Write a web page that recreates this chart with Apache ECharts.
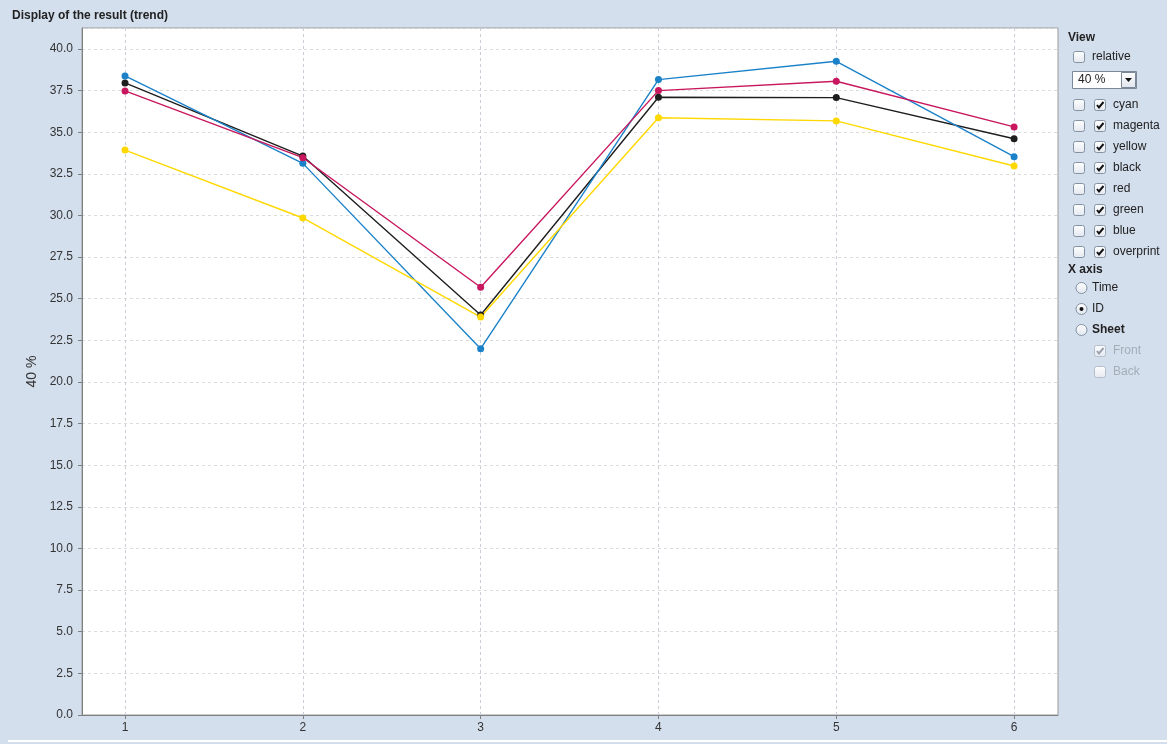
<!DOCTYPE html>
<html>
<head>
<meta charset="utf-8">
<script src="https://cdn.jsdelivr.net/npm/echarts@6/dist/echarts.min.js"></script>
<style>
html,body{margin:0;padding:0;background:#d4dfee;}
#chart{width:1167px;height:744px;}
</style>
</head>
<body>
<div id="chart"></div>
<script>
// ---- data ----
const categories = [1, 2, 3, 4, 5, 6];
const cyan    = [38.38, 33.13, 22.00, 38.16, 39.26, 33.53];
const magenta = [37.48, 33.47, 25.69, 37.50, 38.06, 35.32];
const yellow  = [33.93, 29.85, 23.90, 35.87, 35.68, 32.97];
const black   = [37.96, 33.57, 24.02, 37.10, 37.08, 34.61];
const seriesNames = ['black', 'cyan', 'magenta', 'yellow'];
const panelItems = ['cyan', 'magenta', 'yellow', 'black', 'red', 'green', 'blue', 'overprint'];
const title = 'Display of the result (trend)';
const yName = '40 %';

const colors = {cyan: '#1b82c9', magenta: '#c8175e', yellow: '#ffd800', black: '#1e1e1e'};
const values = {cyan, magenta, yellow, black};

const FONT = '"Liberation Sans", Arial, sans-serif';

function checkbox(x, y, checked, disabled) {
  const children = [{
    type: 'rect',
    shape: {x: 0, y: 0, width: 11, height: 11, r: 2},
    style: {
      fill: new echarts.graphic.LinearGradient(0, 0, 0, 1, [
        {offset: 0, color: '#ffffff'}, {offset: 1, color: '#e3e8ef'}]),
      stroke: disabled ? '#b5bfcb' : '#8392a3', lineWidth: 1
    }
  }];
  if (checked) {
    children.push({
      type: 'polyline',
      shape: {points: [[2.5, 5.5], [4.5, 8], [9, 2.5]]},
      style: {stroke: disabled ? '#9aa3ad' : '#111', lineWidth: 2, fill: null}
    });
  }
  return {type: 'group', x: x + 0.5, y: y + 0.5, children};
}
function radio(cx, cy, selected) {
  const children = [{
    type: 'circle', shape: {cx: 0, cy: 0, r: 5.5},
    style: {
      fill: new echarts.graphic.LinearGradient(0, 0, 0, 1, [
        {offset: 0, color: '#ffffff'}, {offset: 1, color: '#e0e6ee'}]),
      stroke: '#8392a3', lineWidth: 1
    }
  }];
  if (selected) children.push({type: 'circle', shape: {cx: 0, cy: 0, r: 2}, style: {fill: '#111'}});
  return {type: 'group', x: cx, y: cy, children};
}
function label(x, y, text, opts) {
  opts = opts || {};
  return {
    type: 'text', x, y,
    style: {
      text, fill: opts.color || '#222', font: (opts.bold ? 'bold ' : '') + (opts.size || 12) + 'px ' + FONT,
      textVerticalAlign: 'middle', textAlign: 'left'
    }
  };
}

const graphics = [];
graphics.push(label(12, 16, title, {bold: true, size: 12}));
// panel
graphics.push(label(1068, 38, 'View', {bold: true}));
graphics.push(checkbox(1073, 51, false));
graphics.push(label(1092, 56.5, 'relative'));
// dropdown
graphics.push({type: 'rect', shape: {x: 1072.5, y: 71.5, width: 64, height: 17},
  style: {fill: '#ffffff', stroke: '#7a8899', lineWidth: 1}});
graphics.push(label(1078, 80, '40 %'));
graphics.push({type: 'rect', shape: {x: 1121.5, y: 72.5, width: 14, height: 15},
  style: {fill: new echarts.graphic.LinearGradient(0, 0, 0, 1, [
    {offset: 0, color: '#ffffff'}, {offset: 1, color: '#dfe5ec'}]), stroke: '#7a8899', lineWidth: 1}});
graphics.push({type: 'polygon', shape: {points: [[1125, 78], [1132, 78], [1128.5, 82]]}, style: {fill: '#111'}});
panelItems.forEach((name, i) => {
  const cy = 104 + i * 21;
  graphics.push(checkbox(1073, cy - 5, false));
  graphics.push(checkbox(1094, cy - 5, true));
  graphics.push(label(1113, cy + 0.5, name));
});
graphics.push(label(1068, 270, 'X axis', {bold: true}));
graphics.push(radio(1081.5, 288, false));
graphics.push(label(1092, 288, 'Time'));
graphics.push(radio(1081.5, 309, true));
graphics.push(label(1092, 309, 'ID'));
graphics.push(radio(1081.5, 330, false));
graphics.push(label(1092, 330, 'Sheet', {bold: true}));
graphics.push(checkbox(1094, 345, true, true));
graphics.push(label(1113, 350.5, 'Front', {color: '#a4adb8'}));
graphics.push(checkbox(1094, 366, false, true));
graphics.push(label(1113, 371.5, 'Back', {color: '#a4adb8'}));
// bottom separator
graphics.push({type: 'rect', shape: {x: 8, y: 740, width: 1159, height: 2}, style: {fill: '#ffffff'}});

const series = seriesNames.map(n => ({
  name: n,
  type: 'line',
  data: categories.map((c, i) => [c, values[n][i]]),
  symbol: 'circle',
  symbolSize: 7,
  showSymbol: true,
  animation: false,
  lineStyle: {color: colors[n], width: 1.4},
  itemStyle: {color: colors[n]},
  emphasis: {disabled: true}
}));

const chart = echarts.init(document.getElementById('chart'), null, {renderer: 'canvas'});
chart.setOption({
  animation: false,
  backgroundColor: '#d4dfee',
  grid: {
    left: 82, top: 28, width: 976, height: 687,
    show: true, backgroundColor: '#ffffff', borderColor: '#9a9a9a', borderWidth: 1,
    containLabel: false
  },
  xAxis: {
    type: 'value',
    min: 0.758, max: 6.247,
    axisLine: {show: true, lineStyle: {color: '#808080'}},
    axisTick: {show: true, customValues: categories, length: 4, lineStyle: {color: '#808080'}},
    axisLabel: {customValues: categories, color: '#333', fontSize: 12, fontFamily: FONT, margin: 7},
    splitLine: {show: true, lineStyle: {color: '#c9cdd8', type: [3, 3], width: 1}}
  },
  yAxis: {
    type: 'value',
    min: 0, max: 41.26, interval: 2.5,
    name: yName, nameLocation: 'middle', nameGap: 41, nameRotate: 90,
    nameTextStyle: {color: '#333', fontSize: 14, fontFamily: FONT},
    axisLine: {show: true, lineStyle: {color: '#808080'}},
    axisTick: {show: true, length: 4, lineStyle: {color: '#808080'}},
    axisLabel: {color: '#333', fontSize: 12, fontFamily: FONT, margin: 9, showMaxLabel: false,
      formatter: v => v.toFixed(1)},
    splitLine: {show: true, lineStyle: {color: '#dcdcdc', type: [3, 3], width: 1}}
  },
  graphic: graphics,
  series
});
</script>
</body>
</html>
